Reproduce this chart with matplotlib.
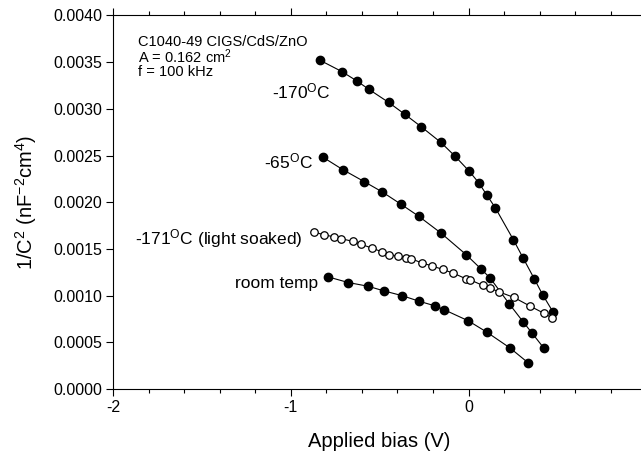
import numpy as np
import matplotlib
matplotlib.use("Agg")
import matplotlib.pyplot as plt
from matplotlib.ticker import MultipleLocator, FormatStrFormatter, FuncFormatter

plt.rcParams['font.family'] = ['Liberation Sans', 'DejaVu Sans']
plt.rcParams['mathtext.fontset'] = 'custom'
plt.rcParams['mathtext.rm'] = 'Liberation Sans'
plt.rcParams['mathtext.it'] = 'Liberation Sans:italic'
plt.rcParams['mathtext.bf'] = 'Liberation Sans:bold'

# -170 C
v170 = [-0.835, -0.713, -0.629, -0.561, -0.450, -0.357, -0.267, -0.155, -0.074,
        0.005, 0.057, 0.102, 0.151, 0.252, 0.308, 0.370, 0.417, 0.477]
c170 = [0.00352, 0.00340, 0.00330, 0.00321, 0.00307, 0.00294, 0.00281, 0.00264,
        0.00249, 0.00233, 0.00221, 0.00208, 0.00194, 0.00160, 0.00140, 0.00118,
        0.00101, 0.00082]

# -65 C
v65 = [-0.817, -0.708, -0.586, -0.485, -0.381, -0.280, -0.155, -0.014, 0.068,
       0.121, 0.230, 0.307, 0.357, 0.423]
c65 = [0.00248, 0.00235, 0.00222, 0.00211, 0.00198, 0.00185, 0.00167, 0.00144,
       0.00129, 0.00119, 0.00091, 0.00072, 0.00060, 0.00044]

# -171 C light soaked
vls = [-0.868, -0.811, -0.757, -0.717, -0.648, -0.605, -0.545, -0.488, -0.446,
       -0.395, -0.352, -0.322, -0.263, -0.208, -0.145, -0.085, -0.014, 0.008,
       0.079, 0.121, 0.172, 0.256, 0.344, 0.425, 0.471]
cls = [0.00168, 0.00165, 0.00163, 0.00161, 0.00158, 0.00155, 0.00151, 0.00147,
       0.00144, 0.00142, 0.00140, 0.001395, 0.00135, 0.00132, 0.00128, 0.00124,
       0.00118, 0.00117, 0.00111, 0.00108, 0.00104, 0.00098, 0.00089, 0.00081,
       0.00076]

# room temp
vrt = [-0.789, -0.676, -0.564, -0.475, -0.374, -0.278, -0.188, -0.138, -0.001,
       0.102, 0.233, 0.336]
crt = [0.00120, 0.00114, 0.00110, 0.00105, 0.00100, 0.00094, 0.00089, 0.00085,
       0.00073, 0.00061, 0.00044, 0.00028]

fig = plt.figure(figsize=(6.41, 4.53), dpi=100)
ax = fig.add_axes([0.1763, 0.1413, 0.8319, 0.8245])

lw = 0.8
ax.plot(v170, c170, '-o', color='black', lw=lw, ms=6, mfc='black', mec='black')
ax.plot(v65, c65, '-o', color='black', lw=lw, ms=6, mfc='black', mec='black')
ax.plot(vls, cls, '-o', color='black', lw=lw, ms=5.4, mfc='white', mec='black', mew=0.9)
ax.plot(vrt, crt, '-o', color='black', lw=lw, ms=6, mfc='black', mec='black')

ax.set_xlim(-2, 1)
ax.set_ylim(0, 0.004)
ax.xaxis.set_major_locator(MultipleLocator(1))
ax.xaxis.set_minor_locator(MultipleLocator(0.2))
ax.yaxis.set_major_locator(MultipleLocator(0.0005))
ax.yaxis.set_major_formatter(FormatStrFormatter('%.4f'))
# the right end of the axis (x = 1) falls outside the picture
ax.xaxis.set_major_formatter(FuncFormatter(lambda v, p: '' if v > 0.5 else '%d' % round(v)))
ax.tick_params(axis='both', which='major', direction='out', length=5, width=0.8,
               labelsize=11.5, top=True, right=False, pad=3)
ax.tick_params(axis='x', which='minor', direction='out', length=3, width=0.8,
               top=True)
ax.spines['right'].set_visible(False)
for s in ['left', 'bottom', 'top']:
    ax.spines[s].set_linewidth(0.8)

ax.set_xlabel('Applied bias (V)', fontsize=14.5, labelpad=12)
ax.set_ylabel(r'1/C$^\mathrm{2}$ (nF$^\mathrm{-2}$cm$^\mathrm{4}$)', fontsize=14.5,
              labelpad=10)

ax.text(-1.859, 0.003672, 'C1040-49 CIGS/CdS/ZnO', fontsize=10.5, va='baseline')
ax.text(-1.859, 0.003487, r'A = 0.162 cm$^\mathrm{2}$', fontsize=10.5, va='baseline')
ax.text(-1.859, 0.003351, 'f = 100 kHz', fontsize=10.5, va='baseline')

ax.text(-1.107, 0.003112, r'-170$^\mathrm{O}$C', fontsize=12.5, va='baseline')
ax.text(-1.153, 0.002365, r'-65$^\mathrm{O}$C', fontsize=12.5, va='baseline')
ax.text(-1.876, 0.001550, r'-171$^\mathrm{O}$C (light soaked)', fontsize=12.5,
        va='baseline')
ax.text(-1.314, 0.001085, 'room temp', fontsize=12.5, va='baseline')

fig.savefig('out.png', dpi=100)
